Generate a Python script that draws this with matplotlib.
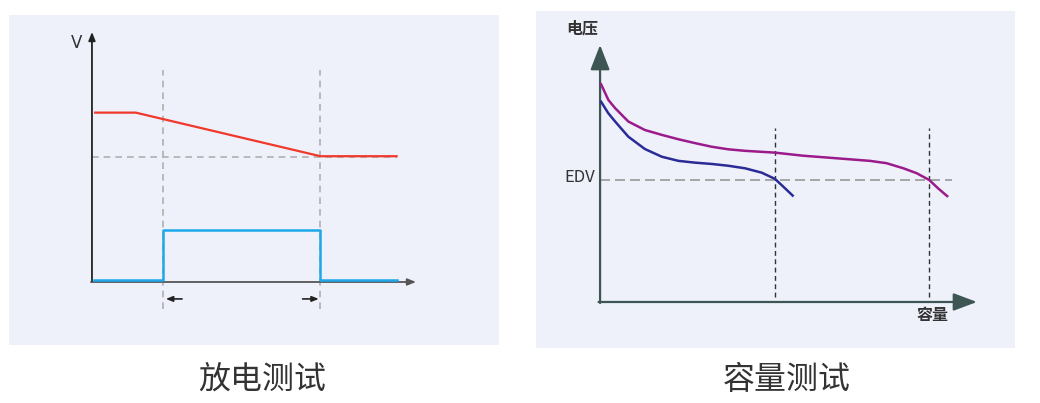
import matplotlib
matplotlib.use("Agg")
import matplotlib.pyplot as plt

plt.rcParams['font.family'] = ['Noto Sans CJK SC', 'DejaVu Sans']

# ---------------- data: discharge test (left) ----------------
red_x = [1, 13.5, 70.5, 94]
red_y = [68, 68, 50.5, 50.5]
blue_x = [0.5, 22, 22, 70.5, 70.5, 94]
blue_y = [0.8, 0.8, 21, 21, 0.8, 0.8]
ref_level = 50
pulse_marks = [22, 70.5]

# ---------------- data: capacity test (right) ----------------
purple_x = [0.27, 2.2, 4.0, 7.5, 11.9, 16.4, 20.8, 25.2, 29.6, 34.0, 38.5, 46.4,
            53.9, 62.8, 71.6, 76.0, 80.5, 84.0, 87.3, 89.7, 92.1]
purple_y = [84.7, 78.6, 75.4, 70.2, 66.9, 65.0, 63.3, 61.8, 60.4, 59.4, 58.8, 58.1,
            56.9, 55.9, 54.9, 54.0, 52.0, 50.1, 47.5, 44.2, 41.2]
navy_x = [0.27, 2.2, 4.0, 7.5, 11.9, 16.4, 20.8, 25.2, 29.6, 34.0, 38.5, 42.9,
          46.4, 49.1, 51.1]
navy_y = [77.9, 73.4, 70.2, 64.3, 59.5, 56.5, 54.9, 54.2, 53.7, 53.0, 52.0, 50.3,
          47.9, 44.2, 41.4]
edv = 47.5
cap_marks = [46.4, 87.3]

titles = ["放电测试", "容量测试"]

W, H = 1040, 403
fig = plt.figure(figsize=(W / 100, H / 100), dpi=100, facecolor='white')
bg = '#eef1fa'

def add_axes_px(x0, y0, x1, y1):
    ax = fig.add_axes([x0 / W, 1 - y1 / H, (x1 - x0) / W, (y1 - y0) / H])
    ax.set_facecolor(bg)
    ax.set_xticks([])
    ax.set_yticks([])
    for s in ax.spines.values():
        s.set_visible(False)
    return ax

# ---------- left panel ----------
ax1 = add_axes_px(9, 15, 499, 345)
ax1.set_xlim(-25.6, 125.6)
ax1.set_ylim(-25.3, 107.2)

for xm in pulse_marks:
    ax1.plot([xm, xm], [-11, 85], color='#b0b0b0', lw=1.2, ls=(0, (4, 3)), zorder=1)
ax1.plot([0, 94], [ref_level, ref_level], color='#b0b0b0', lw=1.2, ls=(0, (4, 3)), zorder=1)

ax1.plot(red_x, red_y, color='#f0392b', lw=1.6, zorder=3)
ax1.plot(blue_x, blue_y, color='#1ea8ea', lw=1.8, zorder=3)

ax1.annotate('', xy=(0, 100.4), xytext=(0, 0),
             arrowprops=dict(arrowstyle='-|>,head_length=0.5,head_width=0.2', lw=1.3,
                             color='#222222', mutation_scale=10, shrinkA=0, shrinkB=0), zorder=2)
ax1.annotate('', xy=(100, 0), xytext=(-0.3, 0),
             arrowprops=dict(arrowstyle='-|>,head_length=0.5,head_width=0.2', lw=1.3,
                             color='#555555', mutation_scale=10, shrinkA=0, shrinkB=0), zorder=2)
ax1.annotate('', xy=(22.8, -6.8), xytext=(27.8, -6.8),
             arrowprops=dict(arrowstyle='-|>,head_length=0.5,head_width=0.2', lw=1.2,
                             color='#222222', mutation_scale=8, shrinkA=0, shrinkB=0))
ax1.annotate('', xy=(70.0, -6.8), xytext=(65.0, -6.8),
             arrowprops=dict(arrowstyle='-|>,head_length=0.5,head_width=0.2', lw=1.2,
                             color='#222222', mutation_scale=8, shrinkA=0, shrinkB=0))
ax1.text(-4.9, 96, 'V', fontsize=12, color='#333333', ha='center', va='center',
         family=['DejaVu Sans'])

# ---------- right panel ----------
ax2 = add_axes_px(536, 11, 1015, 348)
ax2.set_xlim(-17.0, 110.1)
ax2.set_ylim(-17.9, 113.2)

for xm in cap_marks:
    ax2.plot([xm, xm], [1.9, 67.7], color='#333333', lw=1.0, ls=(0, (3.5, 2.5)), zorder=1)
ax2.plot([0, 93.4], [edv, edv], color='#999999', lw=1.2, ls=(0, (6, 3)), zorder=1)

ax2.plot(purple_x, purple_y, color='#9c1b8c', lw=1.8, zorder=3, solid_joinstyle='round')
ax2.plot(navy_x, navy_y, color='#2b2b98', lw=1.8, zorder=3, solid_joinstyle='round')

axc = '#3d5553'
ax2.annotate('', xy=(0, 100), xytext=(0, -0.4),
             arrowprops=dict(arrowstyle='-|>,head_length=0.85,head_width=0.33', lw=1.6,
                             color=axc, mutation_scale=18, shrinkA=0, shrinkB=0), zorder=2)
ax2.annotate('', xy=(100, 0), xytext=(-0.4, 0),
             arrowprops=dict(arrowstyle='-|>,head_length=0.8,head_width=0.3', lw=1.6,
                             color=axc, mutation_scale=18, shrinkA=0, shrinkB=0), zorder=2)

ax2.text(-4.8, 106.2, '电压', fontsize=11.5, color='#333333', ha='center', va='center', weight='bold')
ax2.text(-1.4, 48.6, 'EDV', fontsize=12, color='#333333', ha='right', va='center')
ax2.text(88.1, -5.1, '容量', fontsize=11.5, color='#333333', ha='center', va='center', weight='bold')

# ---------- titles ----------
fig.text(262 / W, 1 - 380 / H, titles[0], fontsize=23, color='#333333', ha='center', va='center')
fig.text(787 / W, 1 - 380 / H, titles[1], fontsize=23, color='#333333', ha='center', va='center')

fig.savefig('out.png', dpi=100, facecolor='white')
